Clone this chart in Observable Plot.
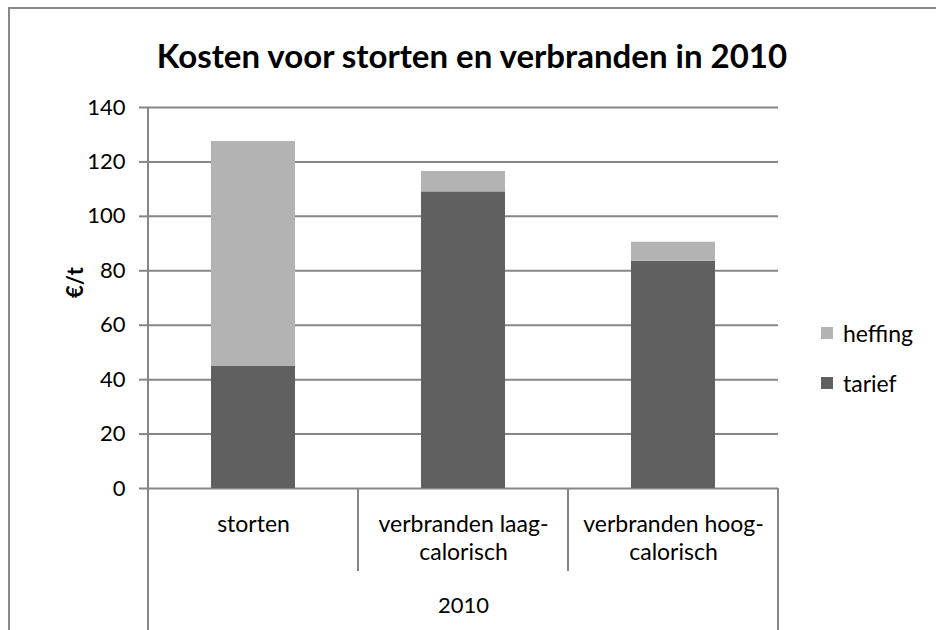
<!DOCTYPE html>
<html><head><meta charset="utf-8">
<script src="https://cdn.jsdelivr.net/npm/d3@7"></script>
<script src="https://cdn.jsdelivr.net/npm/@observablehq/plot@0.6"></script>
<style>
html,body{margin:0;padding:0;background:#fff;font-family:Lato,"Open Sans",sans-serif;}
#wrap{position:relative;width:936px;height:630px;overflow:hidden;}
#border{position:absolute;left:8px;top:7px;width:1000px;height:700px;border:2px solid #888;box-sizing:border-box;}
#chart{position:absolute;left:0;top:0;}
#title{position:absolute;left:0;top:36px;width:944px;text-align:center;font-weight:bold;font-size:33px;line-height:38px;color:#000;}
#legend{position:absolute;left:821px;top:308px;font-size:23px;color:#000;}
#legend .item{display:flex;align-items:center;height:50px;}
#legend .sw{width:12px;height:12px;margin-right:10px;}
</style>
</head><body>
<div id="wrap">
  <div id="border"></div>
  <div id="chart"></div>
  <div id="title"></div>
  <div id="legend"></div>
</div>
<script>
const titleText = "Kosten voor storten en verbranden in 2010";
const yLabel = "€/t";
const groupLabel = "2010";
const categories = ["storten", "verbranden laag-\ncalorisch", "verbranden hoog-\ncalorisch"];
const tarief = [45, 109, 83.5];
const heffing = [82.5, 7.5, 7];
const seriesNames = ["tarief", "heffing"];
const seriesColors = ["#606060", "#b3b3b3"];
const yTicks = [0, 20, 40, 60, 80, 100, 120, 140];
const legendOrder = ["heffing", "tarief"];

const data = categories.flatMap((c, i) => [
  {cat: c, serie: "tarief", value: tarief[i]},
  {cat: c, serie: "heffing", value: heffing[i]}
]);

const gridColor = "#868686";

const plot = Plot.plot({
  width: 936, height: 630,
  marginLeft: 148, marginRight: 158, marginTop: 107, marginBottom: 142,
  style: {fontFamily: "Lato, 'Open Sans', sans-serif", fontSize: "22px", color: "#000", background: "transparent", overflow: "visible"},
  x: {domain: categories, paddingInner: 0.6, paddingOuter: 0.3, axis: null, label: null},
  y: {domain: [0, 140], axis: null, label: null},
  color: {domain: seriesNames, range: seriesColors},
  marks: [
    Plot.gridY(yTicks, {stroke: gridColor, strokeOpacity: 1, strokeWidth: 2}),
    Plot.axisY({ticks: yTicks, tickSize: 9, tickPadding: 14, stroke: gridColor, strokeWidth: 2, strokeOpacity: 1, fontSize: 22, label: null, tickFormat: d => String(d)}),
    Plot.barY(data, {x: "cat", y: "value", fill: "serie"}),
    Plot.text(categories, {x: d => d, text: d => d, frameAnchor: "bottom", dy: 24, lineAnchor: "top", lineHeight: 1.22, fontSize: 23, fill: "#000"}),
    Plot.text([groupLabel], {text: d => d, frameAnchor: "bottom", dy: 117, lineAnchor: "middle", fontSize: 22, fill: "#000"}),
    Plot.text([yLabel], {text: d => d, frameAnchor: "left", dx: -73, rotate: -90, fontWeight: "bold", fontSize: 22, fill: "#000"})
  ]
});
document.getElementById("chart").appendChild(plot);

// category separators below the axis, computed from the x band scale
const xs = plot.scale("x");
const ys = plot.scale("y");
const half = (xs.step - xs.bandwidth) / 2;
const bounds = categories.map(c => xs.apply(c) - half);
bounds.push(xs.apply(categories[categories.length - 1]) + xs.bandwidth + half);
const y0 = ys.apply(0), yTop = ys.apply(140);
const svg = d3.select(plot);
const g = svg.append("g").attr("stroke", gridColor).attr("stroke-width", 2);
bounds.forEach((bx, i) => {
  const outer = i === 0 || i === bounds.length - 1;
  g.append("line")
    .attr("x1", bx).attr("x2", bx)
    .attr("y1", i === 0 ? yTop : y0)
    .attr("y2", outer ? 640 : y0 + 83);
});

document.getElementById("title").textContent = titleText;
const legend = document.getElementById("legend");
legendOrder.forEach(name => {
  const item = document.createElement("div");
  item.className = "item";
  const sw = document.createElement("div");
  sw.className = "sw";
  sw.style.background = seriesColors[seriesNames.indexOf(name)];
  const lab = document.createElement("span");
  lab.textContent = name;
  item.appendChild(sw); item.appendChild(lab);
  legend.appendChild(item);
});
</script>
</body></html>
